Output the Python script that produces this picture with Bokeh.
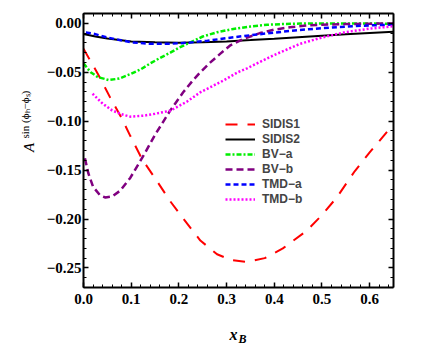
import numpy as np
from bokeh.plotting import figure
from bokeh.layouts import row, column
from bokeh.models import (Range1d, LinearAxis, FixedTicker, Legend, LegendItem, Label,
                          CustomLabelingPolicy)
from bokeh.embed import file_html
from bokeh.resources import INLINE

# ---------------- data ----------------
sidis1_x = [0.0, 0.02, 0.036, 0.056, 0.08, 0.098, 0.123, 0.155, 0.182, 0.21, 0.245, 0.28, 0.31,
            0.343, 0.38, 0.418, 0.468, 0.5, 0.531, 0.569, 0.6, 0.638, 0.65]
sidis1_y = [-0.026, -0.043, -0.057, -0.076, -0.097, -0.115, -0.139, -0.162, -0.182, -0.200, -0.222,
            -0.236, -0.242, -0.244, -0.240, -0.230, -0.212, -0.196, -0.178, -0.151, -0.132, -0.110, -0.104]

sidis2_x = [0.0, 0.025, 0.05, 0.1, 0.15, 0.2, 0.25, 0.3, 0.35, 0.4, 0.45, 0.5, 0.55, 0.6, 0.65]
sidis2_y = [-0.011, -0.0135, -0.0155, -0.0185, -0.0195, -0.0198, -0.0195, -0.0185, -0.0172,
            -0.0158, -0.0143, -0.0128, -0.0113, -0.0099, -0.0087]

bva_x = [0.0, 0.015, 0.03, 0.053, 0.075, 0.098, 0.12, 0.14, 0.16, 0.182, 0.2, 0.224, 0.25, 0.28,
         0.314, 0.35, 0.385, 0.42, 0.454, 0.5, 0.55, 0.6, 0.65]
bva_y = [-0.041, -0.050, -0.055, -0.058, -0.0565, -0.052, -0.047, -0.041, -0.0355, -0.030, -0.025,
         -0.0195, -0.0135, -0.0092, -0.0058, -0.0033, -0.0015, -0.0007, -0.0003, -0.0002, -0.0002,
         -0.0003, -0.0005]

bvb_x = [0.003, 0.01, 0.02, 0.035, 0.046, 0.06, 0.077, 0.098, 0.126, 0.15, 0.182, 0.209, 0.23,
         0.245, 0.266, 0.287, 0.308, 0.335, 0.37, 0.4, 0.433, 0.47, 0.5, 0.55, 0.6, 0.65]
bvb_y = [-0.138, -0.153, -0.167, -0.176, -0.178, -0.177, -0.171, -0.158, -0.135, -0.114, -0.089,
         -0.0705, -0.058, -0.050, -0.040, -0.031, -0.0225, -0.016, -0.010, -0.0065, -0.004,
         -0.0022, -0.0014, -0.0008, -0.0004, -0.0002]

tmda_x = [0.005, 0.02, 0.05, 0.1, 0.14, 0.18, 0.22, 0.26, 0.3, 0.35, 0.4, 0.45, 0.5, 0.55, 0.6, 0.65]
tmda_y = [-0.0095, -0.0105, -0.0145, -0.0195, -0.021, -0.021, -0.0198, -0.0178, -0.0152, -0.0122,
          -0.0095, -0.0070, -0.0050, -0.0034, -0.0022, -0.0013]

tmdb_x = [0.019, 0.04, 0.06, 0.08, 0.098, 0.126, 0.15, 0.182, 0.217, 0.245, 0.293, 0.324, 0.343,
          0.397, 0.454, 0.5, 0.55, 0.6, 0.65]
tmdb_y = [-0.072, -0.082, -0.089, -0.093, -0.0954, -0.0944, -0.0925, -0.0893, -0.080, -0.0705,
          -0.0586, -0.050, -0.046, -0.033, -0.021, -0.0145, -0.009, -0.0055, -0.003]

x_ticks = [0.0, 0.1, 0.2, 0.3, 0.4, 0.5, 0.6]
x_tick_labels = ["0.0", "0.1", "0.2", "0.3", "0.4", "0.5", "0.6"]
y_ticks = [0.0, -0.05, -0.1, -0.15, -0.2, -0.25]
y_tick_labels = ["0.00", "\u22120.05", "\u22120.10", "\u22120.15", "\u22120.20", "\u22120.25"]

series_names = ["SIDIS1", "SIDIS2", "BV\u2212a", "BV\u2212b", "TMD\u2212a", "TMD\u2212b"]

# ---------------- main figure ----------------
p = figure(frame_width=310, frame_height=274, output_backend="svg", toolbar_location=None,
           x_range=Range1d(0.0, 0.65), y_range=Range1d(-0.27, 0.01),
           min_border_left=48, min_border_right=27, min_border_top=13, min_border_bottom=32,
           x_axis_location=None, y_axis_location=None)
p.xgrid.visible = False
p.ygrid.visible = False
p.outline_line_color = None
p.background_fill_color = "white"
p.border_fill_color = "white"

x_minor = [round(v, 3) for v in np.arange(0.0, 0.651, 0.02)]
y_minor = [round(v, 3) for v in np.arange(-0.27, 0.0101, 0.01)]

hide_all = CustomLabelingPolicy(code="for (const i of indices) { indices.unset(i) }\nreturn indices")

def style_axis(ax, show_labels):
    ax.axis_line_width = 2
    ax.axis_line_color = "black"
    ax.major_tick_in = 5
    ax.major_tick_out = 0
    ax.minor_tick_in = 3
    ax.minor_tick_out = 0
    ax.major_tick_line_width = 1.5
    ax.minor_tick_line_width = 1
    ax.major_tick_line_color = "black"
    ax.minor_tick_line_color = "black"
    if show_labels:
        ax.major_label_text_font = "Liberation Serif"
        ax.major_label_text_font_style = "bold"
        ax.major_label_text_font_size = "15px"
        ax.major_label_text_color = "black"
    else:
        ax.major_label_policy = hide_all
        ax.major_label_standoff = 0

xb = LinearAxis(ticker=FixedTicker(ticks=x_ticks, minor_ticks=x_minor),
                major_label_overrides=dict(zip(x_ticks, x_tick_labels)))
style_axis(xb, True)
xb.major_label_standoff = 6
xt = LinearAxis(ticker=FixedTicker(ticks=x_ticks, minor_ticks=x_minor))
style_axis(xt, False)
yl = LinearAxis(ticker=FixedTicker(ticks=y_ticks, minor_ticks=y_minor),
                major_label_overrides=dict(zip(y_ticks, y_tick_labels)))
style_axis(yl, True)
yl.major_label_standoff = 2
yr = LinearAxis(ticker=FixedTicker(ticks=y_ticks, minor_ticks=y_minor))
style_axis(yr, False)
p.add_layout(xb, "below")
p.add_layout(xt, "above")
p.add_layout(yl, "left")
p.add_layout(yr, "right")

r1 = p.line(sidis1_x, sidis1_y, line_color="#ff0000", line_width=2, line_dash="12 10")
r2 = p.line(sidis2_x, sidis2_y, line_color="black", line_width=2)
r3 = p.line(bva_x, bva_y, line_color="#00ee00", line_width=2.5, line_dash="5 2 2 2")
r4 = p.line(bvb_x, bvb_y, line_color="#800080", line_width=2.5, line_dash="7 4")
r5 = p.line(tmda_x, tmda_y, line_color="#0000ff", line_width=2.5, line_dash="5 3")
r6 = p.line(tmdb_x, tmdb_y, line_color="#ff00ff", line_width=2.5, line_dash="2 2")

legend = Legend(items=[LegendItem(label=n, renderers=[r]) for n, r in
                       zip(series_names, [r1, r2, r3, r4, r5, r6])],
                location=(142, 81), glyph_width=30, glyph_height=14, label_height=14,
                spacing=1, padding=0, margin=0, label_standoff=7,
                label_text_font="Liberation Sans", label_text_font_style="bold",
                label_text_font_size="12px", border_line_color=None,
                background_fill_alpha=0)
p.add_layout(legend)

# ---------------- axis-title strips (own small figures, labels inside their frames) -------------
def blank_fig(w, h):
    f = figure(width=w, height=h, output_backend="svg", toolbar_location=None,
               x_range=Range1d(0, 1), y_range=Range1d(0, 1),
               min_border=0, x_axis_location=None, y_axis_location=None)
    f.xgrid.visible = False
    f.ygrid.visible = False
    f.outline_line_color = None
    f.background_fill_color = "white"
    f.border_fill_color = "white"
    return f

ylab = blank_fig(35, 319)
ylab.add_layout(Label(x=28, y=140, x_units="screen", y_units="screen", text="A",
                      angle=np.pi / 2, text_align="center", text_baseline="alphabetic",
                      text_font="Liberation Serif", text_font_style="italic",
                      text_font_size="15px", text_color="black"))
ylab.add_layout(Label(x=24.5, y=149, x_units="screen", y_units="screen",
                      text="sin (\u03d5\u2095\u2212\u03d5\u209b)", angle=np.pi / 2,
                      text_align="left", text_baseline="alphabetic",
                      text_font="Liberation Serif", text_font_size="11px", text_color="black"))

xlab = blank_fig(420, 27)
xlab.add_layout(Label(x=229, y=12, x_units="screen", y_units="screen", text="x",
                      text_align="left", text_baseline="alphabetic",
                      text_font="Liberation Serif", text_font_style="bold italic",
                      text_font_size="16px", text_color="black"))
xlab.add_layout(Label(x=238, y=8, x_units="screen", y_units="screen", text="B",
                      text_align="left", text_baseline="alphabetic",
                      text_font="Liberation Serif", text_font_style="bold italic",
                      text_font_size="12px", text_color="black"))

layout = column(row(ylab, p, spacing=0), xlab, spacing=0)

open("out.html", "w").write(file_html(layout, INLINE))
